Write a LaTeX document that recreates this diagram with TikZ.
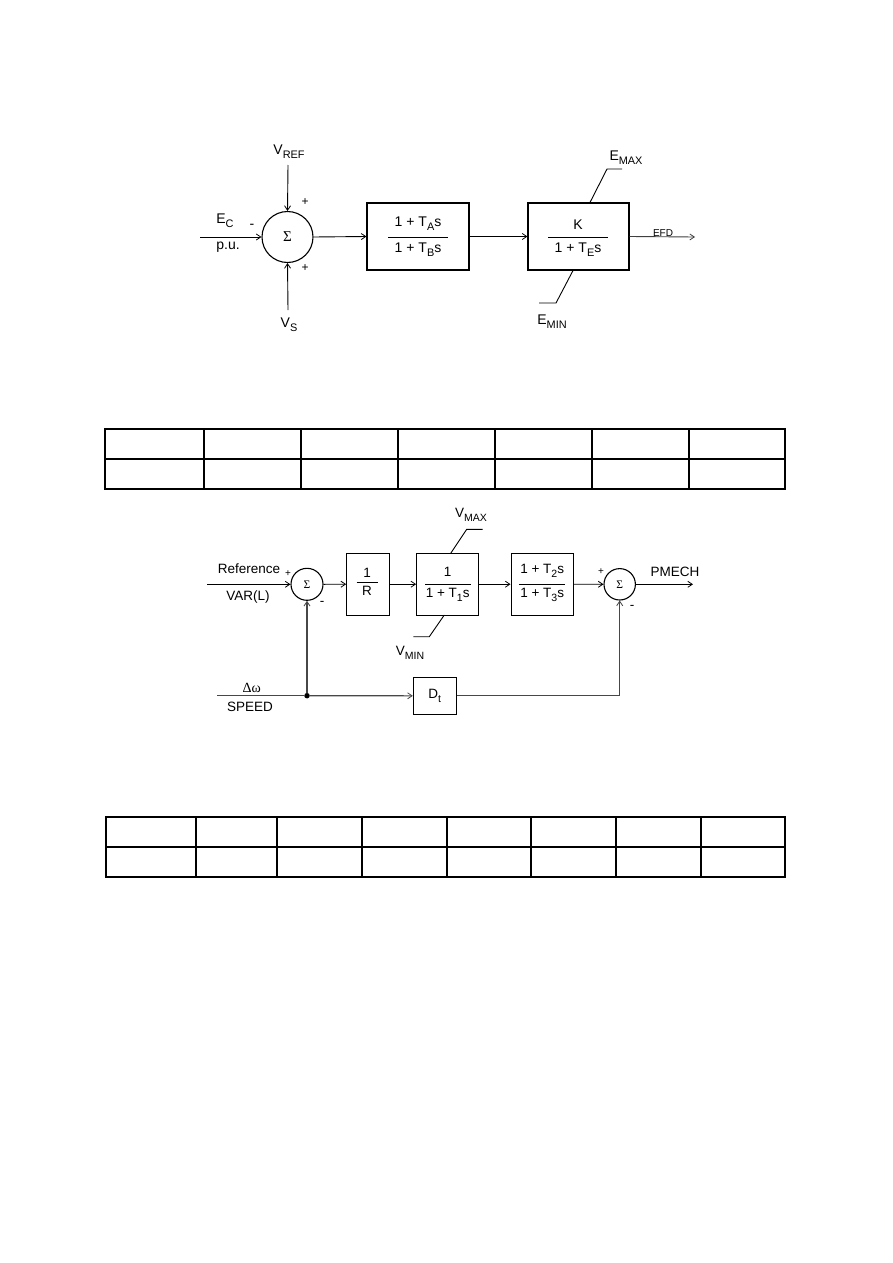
\documentclass[tikz,border=0pt]{standalone}
\usepackage{fontspec}
\setmainfont{Liberation Sans}
\newfontfamily\serifx{Liberation Serif}
\usepackage{graphicx}
\usetikzlibrary{arrows.meta,calc}
\newcommand{\lsub}[1]{\raisebox{-0.3em}{\scalebox{0.78}{#1}}}
\begin{document}
\begin{tikzpicture}[x=1pt,y=-1pt,
  wire/.style={line width=0.9pt},
  gwire/.style={line width=1.1pt,draw=black!72},
  arr/.style={wire,-{Straight Barb[length=4.5pt,width=6pt,line width=0.8pt]}},
  blk/.style={draw,line width=1.1pt,inner sep=0pt},
  sumc/.style={draw,circle,line width=1.1pt,inner sep=0pt},
  big/.style={font=\fontsize{14}{16}\selectfont},
  mid/.style={font=\fontsize{13.5}{15}\selectfont},
  sml/.style={font=\fontsize{10}{12}\selectfont},
  pls/.style={font=\fontsize{12}{14}\selectfont},
  tab/.style={line width=1.3pt},
  tabout/.style={line width=2pt}]
\useasboundingbox (0,0) rectangle (893,1263);
\fill[white] (0,0) rectangle (893,1263);

% ---------- top diagram ----------
\node[sumc,minimum size=51pt,font=\fontsize{15}{17}\selectfont] (s1) at (287.5,237) {\serifx Σ};
\coordinate (vreft) at (288,165);
\coordinate (vsb) at (288,310);
\coordinate (ecin) at (200,237);
\node[big] (vref) at (289,152) {V\lsub{REF}};
\node[big] (vs) at (289,325) {V\lsub{S}};
\node[big] (ec) at (225,221) {E\lsub{C}};
\node[big] (pu) at (228,247) {p.u.};
\node[big] (m1) at (252,226) {-};
\node[pls] (p1) at (305,202) {+};
\node[pls] (p2) at (305,268) {+};
\draw[arr] (vreft) -- (s1.north);
\draw[arr] (vsb) -- (s1.south);
\draw[arr] (ecin) -- (s1.west);

\node[blk,minimum width=102pt,minimum height=67pt] (b1) at (418,236.5) {};
\node[big] (b1n) at (418,224) {1 + T\lsub{A}s};
\node[big] (b1d) at (418,250) {1 + T\lsub{B}s};
\draw[wire] (388,237) -- (448,237);

\node[blk,minimum width=101pt,minimum height=67pt] (b2) at (578.5,236.5) {};
\node[big] (b2n) at (578,225) {K};
\node[big] (b2d) at (578,250) {1 + T\lsub{E}s};
\draw[wire] (548,237) -- (608,237);

\coordinate (efdo) at (695,237);
\draw[arr] (s1.east) -- (b1.west);
\draw[arr] (b1.east) -- (b2.west);
\draw[arr,draw=black!75] (b2.east) -- (efdo);
\node[sml] (efd) at (663,233) {EFD};

\draw[wire] ($(b2.north)+(11.5,0)$) -- (607,169) -- (622,169);
\node[big] (emax) at (626,158) {E\lsub{MAX}};
\draw[wire] ($(b2.south)+(-5.5,0)$) -- (556,303) -- (539,303);
\node[big] (emin) at (552,322) {E\lsub{MIN}};

% ---------- table 1 ----------
\foreach \x in {204,301,398,495,592,689} \draw[tab] (\x,429) -- (\x,489);
\draw[tab] (105,459) -- (785,459);
\draw[tabout] (105,429) rectangle (785,489);
\draw[line width=2.6pt] (104,489) -- (786,489);

% ---------- second diagram ----------
\node[sumc,minimum size=32pt,font=\fontsize{11.5}{13}\selectfont] (s2) at (307,584.3) {\serifx Σ};
\coordinate (refin) at (207,584.3);
\node[mid] (refl) at (249,569) {Reference};
\node[mid] (varl) at (248,597) {VAR(L)};
\node[sml] (p3) at (288,574) {+};
\node[mid] (m2) at (322,603) {-};
\draw[arr] (refin) -- (s2.west);

\node[blk,minimum width=42.6pt,minimum height=61.7pt] (bR) at (368,584.2) {};
\node[mid] (bRn) at (367,573) {1};
\node[mid] (bRd) at (367,591) {R};
\draw[wire] (356.7,582.5) -- (377.7,582.5);

\node[blk,minimum width=62pt,minimum height=61.7pt] (b3) at (447.7,584.2) {};
\node[mid] (b3n) at (447.7,572) {1};
\node[mid] (b3d) at (447.7,595) {1 + T\lsub{1}s};
\draw[wire] (425,584) -- (470.7,584);

\node[blk,minimum width=62.3pt,minimum height=61.7pt] (b4) at (542.2,584.2) {};
\node[mid] (b4n) at (542.2,571) {1 + T\lsub{2}s};
\node[mid] (b4d) at (542.2,595) {1 + T\lsub{3}s};
\draw[wire] (519,584) -- (565,584);

\node[sumc,minimum size=31.4pt,font=\fontsize{11.5}{13}\selectfont] (s3) at (619.7,584.3) {\serifx Σ};
\node[sml] (p4) at (601,572) {+};
\node[mid] (m3) at (632,607) {-};
\node[mid] (pmech) at (675,572) {PMECH};
\coordinate (pout) at (693,584.3);

\draw[arr] (s2.east) -- (bR.west);
\draw[arr] (bR.east) -- (b3.west);
\draw[arr] (b3.east) -- (b4.west);
\draw[arr] (b4.east) -- (s3.west);
\draw[arr] (s3.east) -- (pout);

\draw[wire] (450.7,553.3) -- (466.7,529.3) -- (482.7,529.3);
\node[mid] (vmax) at (471,515) {V\lsub{MAX}};
\draw[wire] (444.3,615) -- (429.3,636.7) -- (413.3,636.7);
\node[mid] (vmin) at (410,653) {V\lsub{MIN}};

\coordinate (spdin) at (217,695.7);
\node[circle,fill,inner sep=0pt,minimum size=5.5pt] (j) at (307,695.7) {};
\node[blk,minimum width=42.7pt,minimum height=37pt] (dt) at (434.7,695.8) {};
\node[mid] (dtl) at (434.7,696) {D\lsub{t}};
\node[font=\fontsize{14}{16}\selectfont] (dw) at (251.7,688) {\serifx Δω};
\node[mid] (spd) at (250,707) {SPEED};
\draw[gwire] (spdin) -- (j);
\draw[arr,gwire] (j) -- (dt.west);
\draw[arr,gwire] (j) -- (s2.south);
\draw[arr,gwire] (dt.east) -| (s3.south);

% ---------- table 2 ----------
\foreach \x in {196,277,362,447,531,616,701} \draw[tab] (\x,817) -- (\x,877);
\draw[tab] (106,847) -- (785,847);
\draw[tabout] (106,817) rectangle (785,877);
\draw[line width=2.6pt] (105,877) -- (786,877);
\end{tikzpicture}
\end{document}
